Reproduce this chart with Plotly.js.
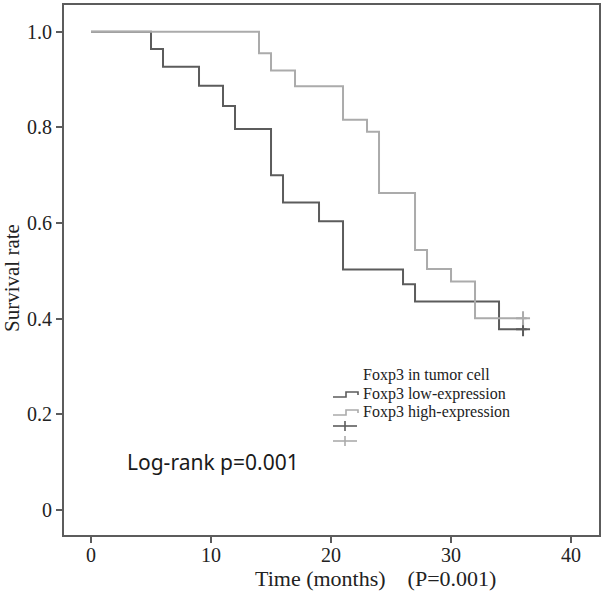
<!DOCTYPE html>
<html>
<head>
<meta charset="utf-8">
<script src="https://cdn.plot.ly/plotly-3.0.1.min.js"></script>
<style>html,body{margin:0;padding:0;background:#fff;}#chart{width:603px;height:592px;}</style>
</head>
<body>
<div id="chart"></div>
<script>
// ---- data ----
var lowTimes = [0, 5, 6, 9, 11, 12, 15, 16, 19, 21, 26, 27, 34, 36.3];
var lowSurv  = [1.0, 0.964, 0.927, 0.887, 0.845, 0.797, 0.700, 0.643, 0.604, 0.503, 0.472, 0.436, 0.378, 0.378];
var highTimes = [0, 14, 15, 17, 21, 23, 24, 27, 28, 30, 32, 36.3];
var highSurv  = [1.0, 0.955, 0.919, 0.886, 0.816, 0.791, 0.663, 0.544, 0.504, 0.478, 0.401, 0.401];
var lowCensorT = [36];
var lowCensorS = [0.378];
var highCensorT = [36];
var highCensorS = [0.401];
var xTicks = [0, 10, 20, 30, 40];
var yTicks = [0, 0.2, 0.4, 0.6, 0.8, 1.0];
var yTickText = ['0', '0.2', '0.4', '0.6', '0.8', '1.0'];
var legendTitle = 'Foxp3 in tumor cell';
var legendLabels = ['Foxp3 low-expression', 'Foxp3 high-expression'];

var darkC = '#5c5c5c';
var lightC = '#ababab';
var serif = '"Liberation Serif", "Times New Roman", serif';

// pixel -> paper helpers (plot area: x 64..599, y 5..535)
var L = 64, R = 599, T = 5, B = 535;
function px(x) { return (x - L) / (R - L); }
function py(y) { return (B - y) / (B - T); }

var traces = [
  {x: lowTimes, y: lowSurv, mode: 'lines', line: {shape: 'hv', color: darkC, width: 2}, showlegend: false, hoverinfo: 'skip'},
  {x: highTimes, y: highSurv, mode: 'lines', line: {shape: 'hv', color: lightC, width: 2}, showlegend: false, hoverinfo: 'skip'},
  {x: lowCensorT, y: lowCensorS, mode: 'markers', marker: {symbol: 'cross-thin', size: 10, line: {color: darkC, width: 2}}, showlegend: false},
  {x: highCensorT, y: highCensorS, mode: 'markers', marker: {symbol: 'cross-thin', size: 10, line: {color: lightC, width: 2}}, showlegend: false}
];

function stepIcon(y, color) {
  var p = 'M' + px(333) + ',' + py(y + 3) + ' L' + px(346) + ',' + py(y + 3) +
          ' L' + px(346) + ',' + py(y - 2) + ' L' + px(358) + ',' + py(y - 2) +
          ' L' + px(358) + ',' + py(y + 1);
  return {type: 'path', xref: 'paper', yref: 'paper', path: p, line: {color: color, width: 1.6}};
}
function plusIcon(y, color) {
  return [
    {type: 'line', xref: 'paper', yref: 'paper', x0: px(333), x1: px(357), y0: py(y), y1: py(y), line: {color: color, width: 1.6}},
    {type: 'line', xref: 'paper', yref: 'paper', x0: px(345), x1: px(345), y0: py(y - 5), y1: py(y + 5), line: {color: color, width: 1.6}}
  ];
}

var shapes = [stepIcon(394, darkC), stepIcon(412, lightC)]
  .concat(plusIcon(426, darkC)).concat(plusIcon(441, lightC));

var annotations = [
  {xref: 'paper', yref: 'paper', x: px(361), y: py(375), xanchor: 'left', yanchor: 'middle', showarrow: false,
   text: legendTitle, font: {family: serif, size: 16, color: '#222'}},
  {xref: 'paper', yref: 'paper', x: px(361), y: py(394), xanchor: 'left', yanchor: 'middle', showarrow: false,
   text: legendLabels[0], font: {family: serif, size: 16, color: '#222'}},
  {xref: 'paper', yref: 'paper', x: px(361), y: py(412), xanchor: 'left', yanchor: 'middle', showarrow: false,
   text: legendLabels[1], font: {family: serif, size: 16, color: '#222'}},
  {xref: 'paper', yref: 'paper', x: px(125), y: py(462), xanchor: 'left', yanchor: 'middle', showarrow: false,
   text: 'Log-rank p=0.001', font: {family: '"Noto Sans", "Open Sans", sans-serif', size: 21, color: '#1a1a1a'}},
  {xref: 'paper', yref: 'paper', x: px(375), y: py(578), xanchor: 'center', yanchor: 'middle', showarrow: false,
   text: 'Time (months)\u00a0\u00a0\u00a0\u00a0(P=0.001)', font: {family: serif, size: 22, color: '#222'}},
  {xref: 'paper', yref: 'paper', x: px(12), y: py(278), xanchor: 'center', yanchor: 'middle', showarrow: false, textangle: -90,
   text: 'Survival rate', font: {family: serif, size: 21, color: '#222'}}
];

var layout = {
  width: 603, height: 592,
  margin: {l: L, r: 603 - R, t: T, b: 592 - B, pad: 0},
  paper_bgcolor: '#fff', plot_bgcolor: '#fff',
  showlegend: false,
  xaxis: {range: [-2.25, 42.33], tickvals: xTicks, ticks: 'outside', ticklen: 6, tickwidth: 2, tickcolor: darkC,
          ticklabelstandoff: -5,
          showline: true, mirror: true, linecolor: darkC, linewidth: 2, showgrid: false, zeroline: false,
          tickfont: {family: serif, size: 20, color: '#222'}, fixedrange: true},
  yaxis: {range: [-0.052, 1.056], tickvals: yTicks, ticktext: yTickText, ticks: 'outside', ticklen: 6, tickwidth: 2, tickcolor: darkC,
          showline: true, mirror: true, linecolor: darkC, linewidth: 2, showgrid: false, zeroline: false,
          tickfont: {family: serif, size: 20, color: '#222'}, fixedrange: true},
  shapes: shapes,
  annotations: annotations
};

Plotly.newPlot('chart', traces, layout, {displayModeBar: false, staticPlot: true});
</script>
</body>
</html>
